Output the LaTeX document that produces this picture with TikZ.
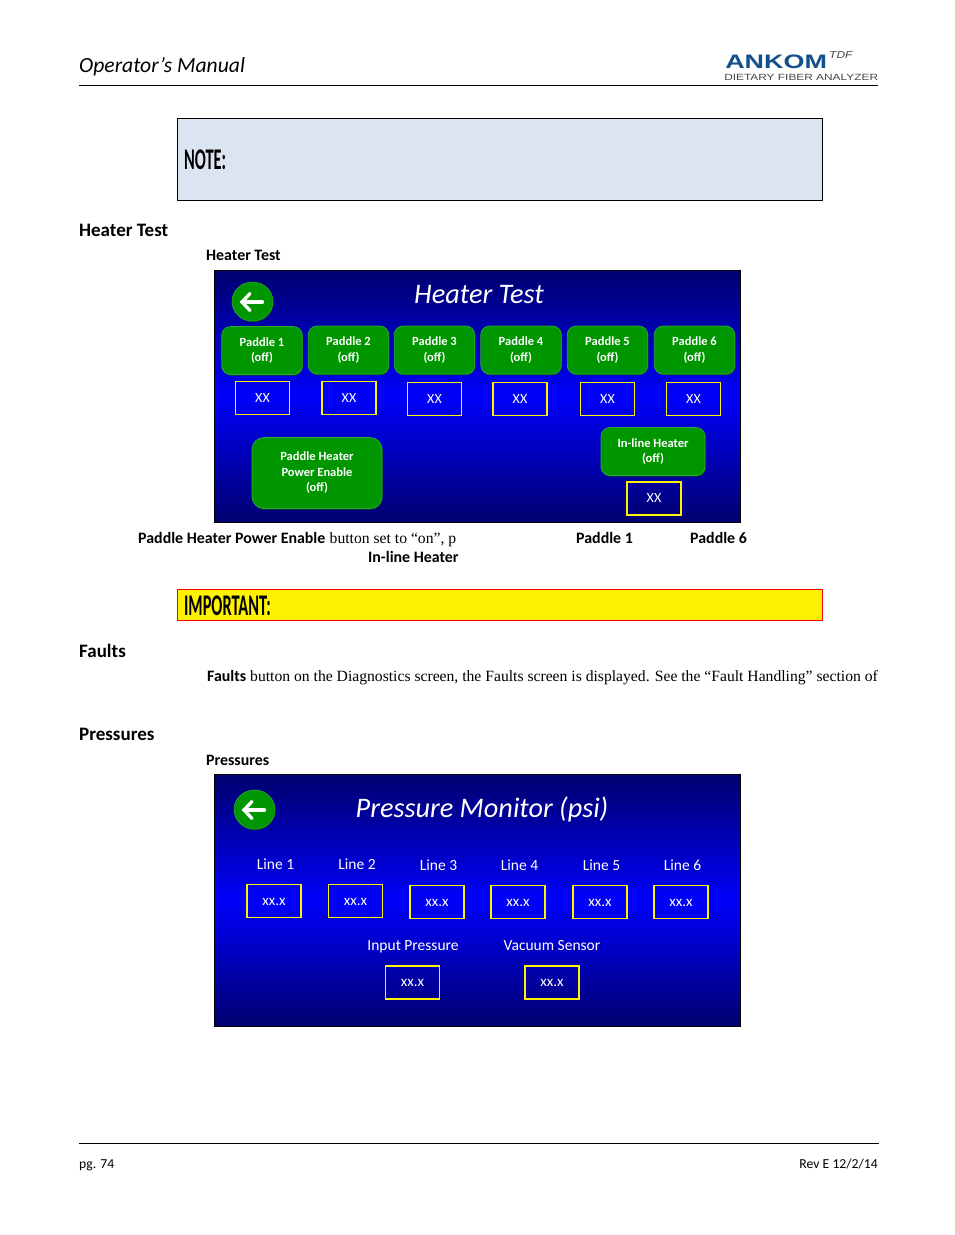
\documentclass[tikz,border=0pt]{standalone}
\usepackage{fontspec}
\setmainfont{Liberation Serif}
\newfontfamily\carlito{Carlito}
\newfontfamily\logofont{Liberation Sans}
\usetikzlibrary{shadows,shapes.geometric}

\definecolor{navy}{RGB}{0,0,110}
\definecolor{panelblue}{RGB}{0,0,250}
\definecolor{btngreen}{RGB}{0,150,0}
\definecolor{btnedge}{RGB}{50,165,50}
\definecolor{btnshade}{RGB}{0,80,20}
\definecolor{notefill}{RGB}{219,229,241}
\definecolor{logoblue}{RGB}{20,80,140}
\definecolor{logogray}{RGB}{70,70,70}

\tikzset{
  panel/.style={draw=black, line width=1pt, top color=navy, bottom color=navy, middle color=panelblue},
  paddlebtn/.style={rounded corners=9pt, draw=btnedge, line width=0.8pt, fill=btngreen, text=white, align=center, inner sep=0pt,
    font=\carlito\bfseries\fontsize{12.5}{15.5}\selectfont, drop shadow={shadow xshift=0.7pt, shadow yshift=-1.2pt, fill=btnshade, opacity=1}},
  backbtn/.style={ellipse, draw=btnedge, line width=0.6pt, fill=btngreen, minimum width=41pt, minimum height=39pt, inner sep=0pt,
    drop shadow={shadow xshift=0.6pt, shadow yshift=-1.2pt, fill=btnshade, opacity=1}},
  backarrow/.style={draw=white, line width=3.3pt, line cap=round},
  valuebox/.style={draw=yellow, line width=1.1pt, text=white, minimum width=54pt, minimum height=33pt, inner sep=0pt, font=\carlito\fontsize{14}{16}\selectfont},
  pressbox/.style={valuebox, text height=9.5pt, text depth=1pt, font=\carlito\fontsize{15}{17}\selectfont},
  presslabel/.style={text=white, inner sep=0pt, text height=10pt, text depth=3pt, font=\carlito\fontsize{15.5}{17}\selectfont},
  screentitle/.style={anchor=base, text=white, inner sep=0pt, font=\carlito\itshape\fontsize{28.3}{32}\selectfont},
  heading/.style={anchor=base west, inner sep=0pt, font=\carlito\bfseries\fontsize{19}{22}\selectfont},
  bodytext/.style={anchor=base west, inner sep=0pt, font=\fontsize{15.65}{18}\selectfont},
  boldtext/.style={anchor=base west, inner sep=0pt, font=\carlito\bfseries\fontsize{15.9}{18}\selectfont},
  smalltext/.style={inner sep=0pt, font=\carlito\fontsize{13.7}{15}\selectfont},
  callout/.style={anchor=west, inner sep=0pt, xscale=0.545, font=\carlito\bfseries\fontsize{30}{32}\selectfont},
}

\begin{document}
\begin{tikzpicture}[x=1pt, y=-1pt]
    \useasboundingbox (0,0) rectangle (954,1235);

    % header
    \node[anchor=base west, inner sep=0pt, font=\carlito\itshape\fontsize{21.6}{24}\selectfont] (manual) at (79,72) {Operator’s Manual};
    \node[anchor=base west, inner sep=0pt, xscale=1.38, text=logoblue, font=\logofont\bfseries\fontsize{19.5}{20}\selectfont] (ankom) at (725,68) {ANKOM};
    \node[anchor=base west, inner sep=0pt, xscale=1.2, text=logogray, font=\logofont\itshape\fontsize{10}{11}\selectfont] (tdf) at (829,58) {TDF};
    \node[anchor=base west, inner sep=0pt, xscale=1.32, text=logogray, font=\logofont\fontsize{9}{10}\selectfont] (dietary) at (724,80) {DIETARY FIBER ANALYZER};
    \coordinate (headL) at (79,85.5);
    \coordinate (headR) at (878,85.5);
    \draw[line width=0.8pt] (headL) -- (headR);

    % note
    \node[draw=black, line width=0.8pt, fill=notefill, minimum width=645pt, minimum height=82pt, inner sep=0pt] (notebox) at (500,159.5) {};
    \node[callout] (note) at (184,160) {NOTE:};

    % heater test
    \node[heading] (heaterhead) at (79,236) {Heater Test};
    \node[boldtext] (heatercap) at (206,260) {Heater Test};
    \node[panel, minimum width=526pt, minimum height=252pt, inner sep=0pt] (heaterpanel) at (477.5,396.5) {};
    \node[screentitle] (heatertitle) at (479,303) {Heater Test};

    % back button
    \node[backbtn] (backA) at (252.5,301.5) {};
    \coordinate (backAtail) at (262.5,302);
    \coordinate (backAtip) at (242,302);
    \coordinate (backAup) at (250,293.5);
    \coordinate (backAdown) at (250,310.5);
    \draw[backarrow] (backAtail) -- (backAtip);
    \draw[backarrow] (backAup) -- (backAtip) -- (backAdown);

    % paddle buttons
    \node[paddlebtn, minimum width=80.5pt, minimum height=48pt] (btnA) at (262,350.5) {Paddle 1\\(off)};
    \node[paddlebtn, minimum width=80.5pt, minimum height=48pt] (btnB) at (348.5,350) {Paddle 2\\(off)};
    \node[paddlebtn, minimum width=80.5pt, minimum height=48pt] (btnC) at (434.5,350) {Paddle 3\\(off)};
    \node[paddlebtn, minimum width=80.5pt, minimum height=48pt] (btnD) at (521,350) {Paddle 4\\(off)};
    \node[paddlebtn, minimum width=80.5pt, minimum height=48pt] (btnE) at (607.5,350) {Paddle 5\\(off)};
    \node[paddlebtn, minimum width=80.5pt, minimum height=48pt] (btnF) at (694.5,350) {Paddle 6\\(off)};

    % values
    \node[valuebox] (valA) at (262.5,398) {XX};
    \node[valuebox] (valB) at (349,398) {XX};
    \node[valuebox] (valC) at (434.5,399) {XX};
    \node[valuebox] (valD) at (520,399) {XX};
    \node[valuebox] (valE) at (607.5,399) {XX};
    \node[valuebox] (valF) at (693.5,399) {XX};

    \node[paddlebtn, rounded corners=12pt, minimum width=130pt, minimum height=71pt] (btnPower) at (317,473) {Paddle Heater\\Power Enable\\(off)};
    \node[paddlebtn, minimum width=104pt, minimum height=48pt] (btnInline) at (653,451.5) {In-line Heater\\(off)};
    \node[valuebox] (valInline) at (654,498.5) {XX};

    % text under the screen
    \node[boldtext] (powerword) at (138,543) {Paddle Heater Power Enable};
    \node[bodytext] (powerrest) at (329.5,543) {button set to “on”, p};
    \node[boldtext] (paddleA) at (576,543) {Paddle 1};
    \node[boldtext] (paddleF) at (690,543) {Paddle 6};
    \node[boldtext] (inlineword) at (368,562) {In-line Heater};

    % important
    \node[draw=red, line width=0.8pt, fill=yellow, minimum width=645pt, minimum height=31pt, inner sep=0pt] (impbox) at (500,605) {};
    \node[callout] (important) at (184,606) {IMPORTANT:};

    % faults
    \node[heading] (faultshead) at (79,657) {Faults};
    \node[boldtext] (faultsword) at (207,681) {Faults};
    \node[bodytext] (faultsrest) at (250,681) {button on the Diagnostics screen, the Faults screen is displayed. See the “Fault Handling” section of};

    % pressures
    \node[heading] (presshead) at (79,740) {Pressures};
    \node[boldtext] (presscap) at (206,765) {Pressures};
    \node[panel, minimum width=526pt, minimum height=252pt, inner sep=0pt] (presspanel) at (477.5,900.5) {};
    \node[screentitle] (presstitle) at (482,817) {Pressure Monitor (psi)};

    % back button
    \node[backbtn] (backB) at (254.5,809.5) {};
    \coordinate (backBtail) at (264.5,810);
    \coordinate (backBtip) at (244,810);
    \coordinate (backBup) at (252,801.5);
    \coordinate (backBdown) at (252,818.5);
    \draw[backarrow] (backBtail) -- (backBtip);
    \draw[backarrow] (backBup) -- (backBtip) -- (backBdown);

    % lines
    \node[presslabel] (lineA) at (275.5,865.5) {Line 1};
    \node[presslabel] (lineB) at (357,865.5) {Line 2};
    \node[presslabel] (lineC) at (438.5,866.5) {Line 3};
    \node[presslabel] (lineD) at (519.5,866.5) {Line 4};
    \node[presslabel] (lineE) at (601.5,866.5) {Line 5};
    \node[presslabel] (lineF) at (682.5,866.5) {Line 6};

    \node[pressbox] (pressA) at (274,901) {xx.x};
    \node[pressbox] (pressB) at (355.5,901) {xx.x};
    \node[pressbox] (pressC) at (437,902) {xx.x};
    \node[pressbox] (pressD) at (518,902) {xx.x};
    \node[pressbox] (pressE) at (600,902) {xx.x};
    \node[pressbox] (pressF) at (681,902) {xx.x};

    \node[presslabel] (inputlabel) at (413,946.5) {Input Pressure};
    \node[presslabel] (vacuumlabel) at (552,946.5) {Vacuum Sensor};
    \node[pressbox] (pressInput) at (412.5,982.5) {xx.x};
    \node[pressbox] (pressVacuum) at (552,982.5) {xx.x};

    % footer
    \coordinate (footL) at (79,1143.5);
    \coordinate (footR) at (879,1143.5);
    \draw[line width=0.8pt] (footL) -- (footR);
    \node[smalltext, anchor=base west] (page) at (79,1168) {pg. 74};
    \node[smalltext, anchor=base east] (rev) at (878,1168) {Rev E 12/2/14};
  \end{tikzpicture}
\end{document}
